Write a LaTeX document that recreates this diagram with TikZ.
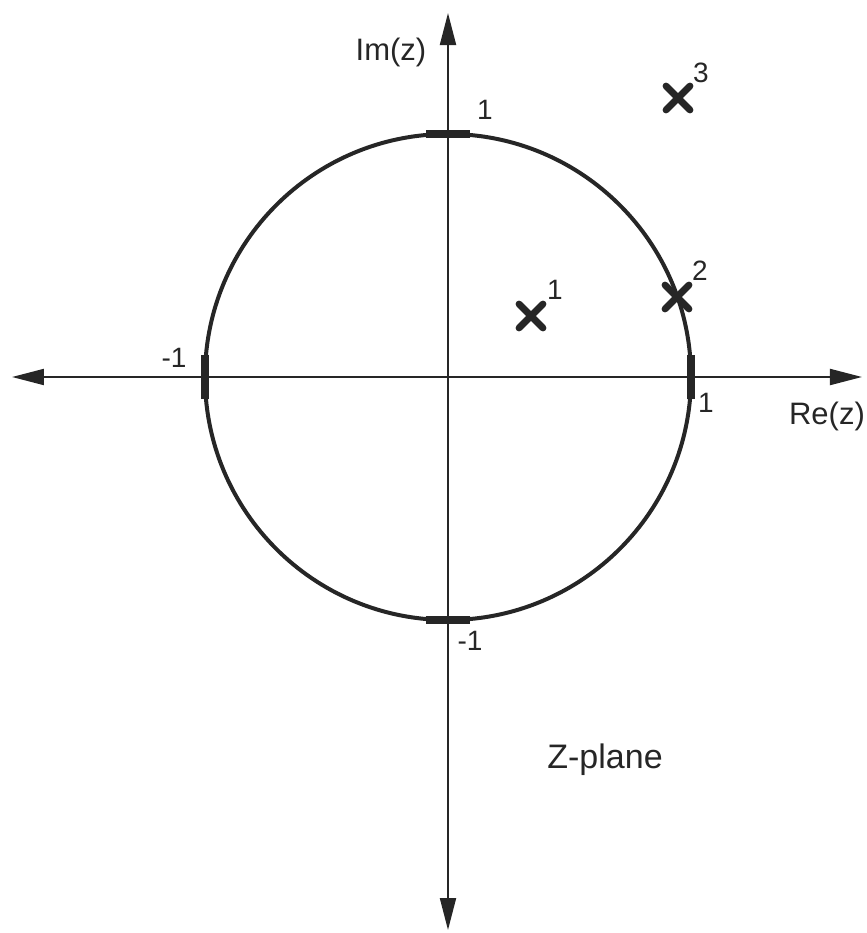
\documentclass[tikz,border=0pt]{standalone}
\usepackage{fontspec}
\setmainfont{Liberation Sans}
\usetikzlibrary{arrows.meta}

\begin{document}
\begin{tikzpicture}[x=0.5pt,y=0.5pt,
        zaxis/.style={line width=1pt,black!85,
            {Triangle[length=16pt,width=8pt]}-{Triangle[length=16pt,width=8pt]}},
        unitmark/.style={line width=3.8pt,black!85},
        polecross/.style={line width=3.4pt,black!85,line cap=round},
        lbl/.style={font=\fontsize{15.5}{18}\selectfont,text=black!85,inner sep=0pt},
        num/.style={font=\fontsize{14}{16}\selectfont,text=black!85,inner sep=0pt}]
        \useasboundingbox (-448,-556) rectangle (419,377);

        \coordinate (O) at (0,0);
        \coordinate (W) at (-436,0);
        \coordinate (E) at (414,0);
        \coordinate (N) at (0,364);
        \coordinate (S) at (0,-553);

        \draw[zaxis] (W) -- (E);
        \draw[zaxis] (S) -- (N);
        \node[lbl] (rez) at (379,-39) {Re(z)};
        \node[lbl] (imz) at (-57,325) {Im(z)};

        % unit circle with marks at +-1
        \draw[line width=2pt,black!85] (O) circle (243);
        \draw[unitmark] (-22,243) -- (22,243);
        \draw[unitmark] (-22,-243) -- (22,-243);
        \draw[unitmark] (-243,-22) -- (-243,22);
        \draw[unitmark] (243,-22) -- (243,22);

        \node[num] (one_im) at (37,267) {1};
        \node[num] (one_re) at (258,-26) {1};
        \node[num] (mone_re) at (-274,19) {-1};
        \node[num] (mone_im) at (22,-264) {-1};

        % poles
        \foreach \px/\py/\lx/\ly/\k in {83/61/107/87/1, 229/80/252/106/2, 230/279/253/304/3} {
            \draw[polecross] (\px,\py) ++(-12,-12) -- ++(24,24) ++(-24,0) -- ++(24,-24);
            \node[num] (p\k) at (\lx,\ly) {\k};
        }

        \node[lbl,anchor=base west,font=\fontsize{17}{20}\selectfont] (zplane) at (99,-391) {Z-plane};
    \end{tikzpicture}
\end{document}
